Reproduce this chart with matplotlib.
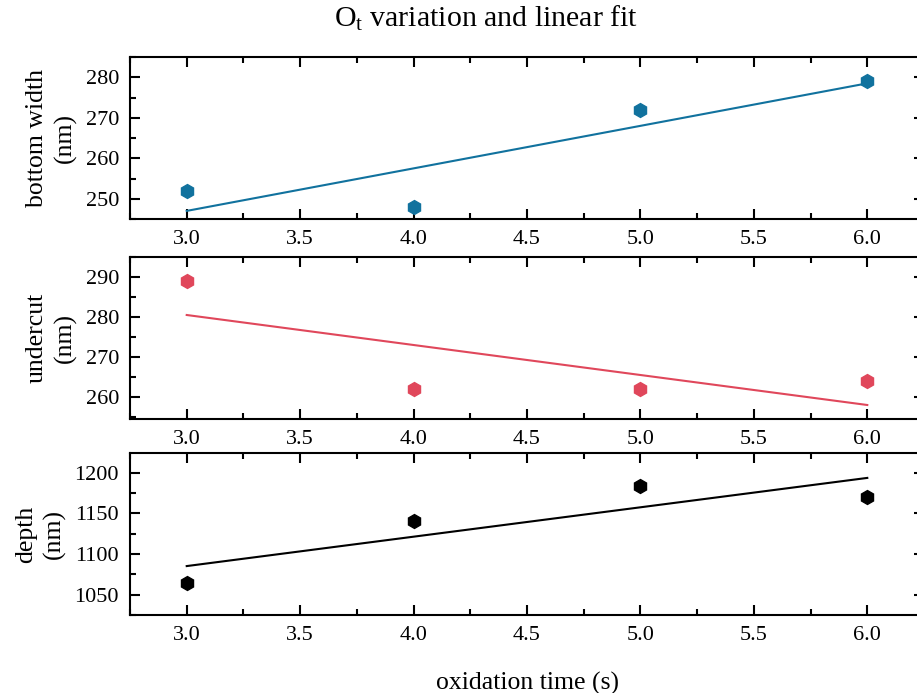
import numpy as np
import matplotlib
matplotlib.use("Agg")
import matplotlib.pyplot as plt
from matplotlib.ticker import MultipleLocator, AutoMinorLocator

# oxidation time (s)
time_s = [3.0, 4.0, 5.0, 6.0]

# measured values (nm)
bottom_width = [252, 248, 272, 279]
undercut = [289, 262, 262, 264]
depth = [1064, 1140, 1183, 1170]

panel_labels = ["bottom width\n(nm)", "undercut\n(nm)", "depth\n(nm)"]
panel_colors = ["#11729e", "#e0475b", "#000000"]
panel_ylims = [(245, 285), (254.5, 295), (1025, 1224)]
panel_ysteps = [10, 10, 50]

plt.rcParams['font.family'] = ['Liberation Serif', 'DejaVu Serif']
plt.rcParams['mathtext.fontset'] = 'custom'
plt.rcParams['mathtext.rm'] = 'Liberation Serif'
plt.rcParams['mathtext.default'] = 'regular'

fig = plt.figure(figsize=(9.17, 6.93), dpi=100)

left, width = 130 / 917, 794 / 917
h = 162 / 693
tops = [57, 257, 453]

x = np.array(time_s)
for i, ys in enumerate([bottom_width, undercut, depth]):
    ax = fig.add_axes([left, 1 - (tops[i] + 162) / 693, width, h])
    c = panel_colors[i]
    slope, icpt = np.polyfit(x, ys, 1)
    ax.plot(x[[0, -1]], slope * x[[0, -1]] + icpt, color=c, lw=1.5)
    ax.plot(x, ys, linestyle='none', marker='h', ms=10, color=c)

    ax.set_xlim(2.75, 6.25)
    ax.set_ylim(*panel_ylims[i])
    ax.xaxis.set_major_locator(MultipleLocator(0.5))
    ax.xaxis.set_major_formatter('{x:.1f}')
    ax.yaxis.set_major_locator(MultipleLocator(panel_ysteps[i]))
    ax.xaxis.set_minor_locator(AutoMinorLocator(2))
    ax.yaxis.set_minor_locator(AutoMinorLocator(2))
    ax.tick_params(which='both', direction='in', top=True, right=True,
                   labelsize=16, width=1.5, pad=8)
    ax.tick_params(which='major', length=7)
    ax.tick_params(which='minor', length=4)
    for s in ax.spines.values():
        s.set_linewidth(1.5)
    ax.spines['right'].set_visible(False)
    ax.set_ylabel(panel_labels[i], fontsize=18.5, linespacing=1.35, labelpad=6)
    if i == 2:
        ax.set_xlabel("oxidation time (s)", fontsize=18.5, labelpad=19)

fig.text(486 / 917, 1 - 18 / 693, "O$_\\mathrm{t}$ variation and linear fit",
         fontsize=21.5, ha='center', va='center')

fig.savefig("out.png", dpi=100)
